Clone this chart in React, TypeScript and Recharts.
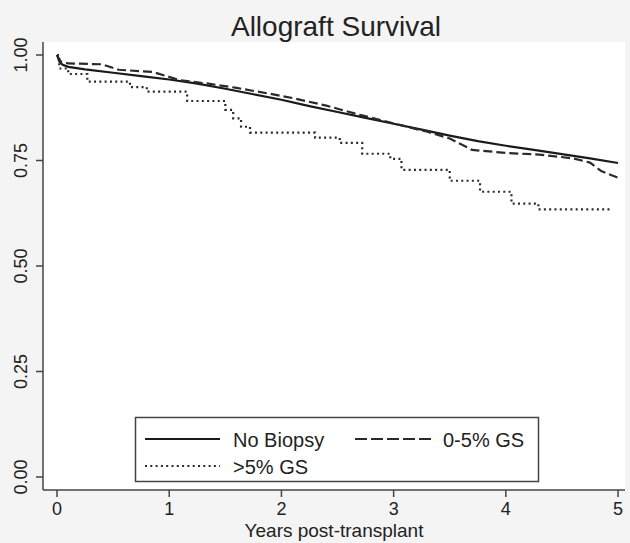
import React from "react";
import { LineChart, Line, XAxis, YAxis, CartesianGrid } from "recharts";

const TITLE = "Allograft Survival";
const X_LABEL = "Years post-transplant";
const X_TICKS = [0, 1, 2, 3, 4, 5];
const Y_TICKS = [0, 0.25, 0.5, 0.75, 1];
const SERIES_NAMES = ["No Biopsy", "0-5% GS", ">5% GS"];

const noBiopsyT = [0, 0.02, 0.05, 0.1, 0.25, 0.5, 0.75, 1, 1.25, 1.5, 1.75, 2, 2.25, 2.5, 2.75, 3, 3.25, 3.5, 3.75, 4, 4.25, 4.5, 4.75, 5];
const noBiopsyS = [1.0, 0.985, 0.977, 0.972, 0.966, 0.958, 0.95, 0.942, 0.932, 0.92, 0.907, 0.894, 0.879, 0.865, 0.851, 0.837, 0.823, 0.809, 0.796, 0.785, 0.775, 0.765, 0.755, 0.744];

const lowGsT = [0, 0.03, 0.1, 0.4, 0.55, 0.85, 1.1, 1.35, 1.6, 1.9, 2.1, 2.4, 2.7, 3.0, 3.3, 3.5, 3.7, 4.0, 4.3, 4.6, 4.75, 4.85, 5.0];
const lowGsS = [1.0, 0.985, 0.98, 0.978, 0.965, 0.96, 0.94, 0.932, 0.922, 0.908, 0.898, 0.88, 0.858, 0.838, 0.818, 0.802, 0.775, 0.768, 0.764, 0.755, 0.745, 0.725, 0.709];

const highGsT = [0, 0.02, 0.1, 0.27, 0.65, 0.8, 1.16, 1.5, 1.57, 1.64, 1.72, 2.3, 2.52, 2.72, 2.97, 3.07, 3.5, 3.77, 4.05, 4.29, 4.94];
const highGsS = [1.0, 0.968, 0.955, 0.937, 0.924, 0.913, 0.891, 0.87, 0.85, 0.83, 0.816, 0.804, 0.792, 0.766, 0.754, 0.728, 0.702, 0.676, 0.648, 0.634, 0.634];

const toRows = (ts: number[], ss: number[]) => ts.map((t, i) => ({ t, s: ss[i] }));
const noBiopsy = toRows(noBiopsyT, noBiopsyS);
const lowGs = toRows(lowGsT, lowGsS);
const highGs = toRows(highGsT, highGsS);

const FONT = "'Liberation Sans', Arial, Helvetica, sans-serif";
const INK = "#222";

const YTick = (props: any) => {
  const { y, payload } = props;
  const bx = 27;
  return (
    <text x={bx} y={y} transform={`rotate(-90 ${bx} ${y})`} textAnchor="middle" fontSize={18} fontFamily={FONT} fill={INK}>
      {Number(payload.value).toFixed(2)}
    </text>
  );
};

const XTick = (props: any) => {
  const { x, payload } = props;
  return (
    <text x={x} y={515} textAnchor="middle" fontSize={18} fontFamily={FONT} fill={INK}>
      {payload.value}
    </text>
  );
};

export default function App() {
  return (
    <div style={{ position: "absolute", left: 0, top: 0, width: 630, height: 543, background: "#f4f4f4", overflow: "hidden" }}>
      <LineChart width={630} height={543} data={noBiopsy} margin={{ top: 42, right: 5, left: 0, bottom: 0 }}>
        <CartesianGrid horizontal={false} vertical={false} fill="#ffffff" stroke="none" />
        <XAxis
          dataKey="t"
          type="number"
          domain={[-0.125, 5.062]}
          ticks={X_TICKS}
          allowDataOverflow
          height={53}
          tickSize={7}
          axisLine={{ stroke: "#444", strokeWidth: 1.5 }}
          tickLine={{ stroke: "#444", strokeWidth: 1.5 }}
          tick={<XTick />}
          label={{ value: X_LABEL, position: "insideBottom", offset: 6, fontSize: 19, fontFamily: FONT, fill: INK }}
        />
        <YAxis
          type="number"
          domain={[-0.0308, 1.0308]}
          ticks={Y_TICKS}
          allowDataOverflow
          width={43}
          tickSize={7}
          axisLine={{ stroke: "#444", strokeWidth: 1.5 }}
          tickLine={{ stroke: "#444", strokeWidth: 1.5 }}
          tick={<YTick />}
        />
        <Line data={noBiopsy} dataKey="s" name={SERIES_NAMES[0]} type="linear" stroke="#1a1a1a" strokeWidth={2.2} dot={false} isAnimationActive={false} />
        <Line data={lowGs} dataKey="s" name={SERIES_NAMES[1]} type="linear" stroke="#2a2a2a" strokeWidth={2.2} strokeDasharray="9 4" dot={false} isAnimationActive={false} />
        <Line data={highGs} dataKey="s" name={SERIES_NAMES[2]} type="stepAfter" stroke="#2a2a2a" strokeWidth={2.2} strokeDasharray="2 3.3" dot={false} isAnimationActive={false} />
      </LineChart>
      <svg width={630} height={543} style={{ position: "absolute", left: 0, top: 0, pointerEvents: "none" }}>
        <text x={336} y={36} textAnchor="middle" fontSize={28} fontFamily={FONT} fill={INK}>{TITLE}</text>
        <rect x={135.5} y={417.5} width={403} height={64} fill="#ffffff" stroke="#444" strokeWidth={1.5} />
        <line x1={145} y1={439} x2={220} y2={439} stroke="#1a1a1a" strokeWidth={2.2} />
        <text x={233} y={447} fontSize={20} fontFamily={FONT} fill={INK}>{SERIES_NAMES[0]}</text>
        <line x1={355} y1={439} x2={432} y2={439} stroke="#2a2a2a" strokeWidth={2.2} strokeDasharray="12 4" />
        <text x={443} y={447} fontSize={20} fontFamily={FONT} fill={INK}>{SERIES_NAMES[1]}</text>
        <line x1={145} y1={466} x2={220} y2={466} stroke="#2a2a2a" strokeWidth={2.2} strokeDasharray="2 3.3" />
        <text x={233} y={474} fontSize={20} fontFamily={FONT} fill={INK}>{SERIES_NAMES[2]}</text>
      </svg>
    </div>
  );
}
